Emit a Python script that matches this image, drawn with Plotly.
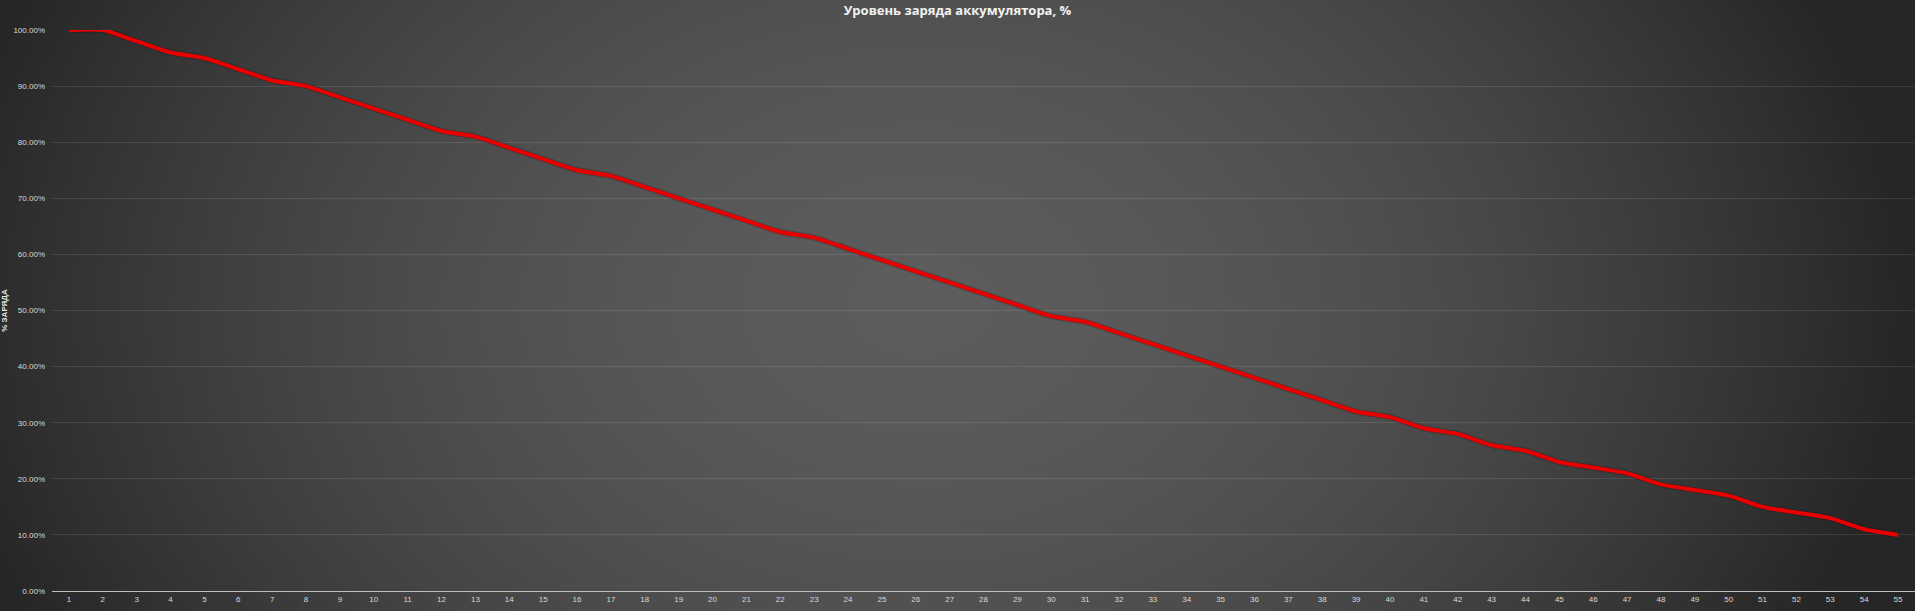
import base64, struct, zlib
import plotly.graph_objects as go

# ---- data ----
categories = [str(i) for i in range(1, 56)]
charge = [100, 100, 98, 96, 95, 93, 91, 90, 88, 86,
          84, 82, 81, 79, 77, 75, 74, 72, 70, 68,
          66, 64, 63, 61, 59, 57, 55, 53, 51, 49,
          48, 46, 44, 42, 40, 38, 36, 34, 32, 31,
          29, 28, 26, 25, 23, 22, 21, 19, 18, 17,
          15, 14, 13, 11, 10]
y_ticks = [0, 0.1, 0.2, 0.3, 0.4, 0.5, 0.6, 0.7, 0.8, 0.9, 1.0]
title_text = "Уровень заряда аккумулятора, %"
y_title = "% ЗАРЯДА"

W, H = 1915, 611


# ---- radial gradient background (styling only) ----
def gradient_png(w, h):
    rows = []
    cx, cy, rx, ry = 0.48, 0.5, 0.52, 1.2
    for j in range(h):
        row = bytearray([0])
        for i in range(w):
            x = i / (w - 1)
            y = j / (h - 1)
            r = (((x - cx) / rx) ** 2 + ((y - cy) / ry) ** 2) ** 0.5
            r = min(r, 1.0)
            v = int(round(92 - 54 * r ** 1.8))
            row.append(v)
        rows.append(bytes(row))
    raw = b"".join(rows)

    def chunk(t, d):
        c = struct.pack(">I", len(d)) + t + d
        return c + struct.pack(">I", zlib.crc32(t + d) & 0xFFFFFFFF)

    png = b"\x89PNG\r\n\x1a\n"
    png += chunk(b"IHDR", struct.pack(">IIBBBBB", w, h, 8, 0, 0, 0, 0))
    png += chunk(b"IDAT", zlib.compress(raw, 9))
    png += chunk(b"IEND", b"")
    return "data:image/png;base64," + base64.b64encode(png).decode()


bg = gradient_png(240, 76)

values = [v / 100 for v in charge]

fig = go.Figure()
fig.add_trace(go.Scatter(
    x=categories, y=values, mode="lines",
    line=dict(color="rgba(0,0,0,0.2)", width=6, shape="spline", smoothing=0.6),
    hoverinfo="skip", showlegend=False,
))
fig.add_trace(go.Scatter(
    x=categories, y=values, mode="lines",
    line=dict(color="#e80000", width=4, shape="spline", smoothing=0.6),
    showlegend=False,
))

fig.update_layout(
    width=W, height=H,
    margin=dict(l=52, r=0, t=30, b=20, autoexpand=False),
    paper_bgcolor="#3a3a3a",
    plot_bgcolor="rgba(0,0,0,0)",
    images=[dict(source=bg, xref="paper", yref="paper", x=-52 / (W - 52), y=1 + 30 / 561,
                 sizex=W / (W - 52), sizey=H / 561, sizing="stretch",
                 xanchor="left", yanchor="top", layer="below")],
    title=dict(text=title_text, x=0.5, xref="container", xanchor="center",
               y=1 - 10 / H, yanchor="middle",
               font=dict(family="Open Sans", size=13, color="#f2f2f2", weight="bold")),
    xaxis=dict(type="category", range=[-0.5, 54.5], showgrid=False,
               showline=True, linecolor="#bfbfbf", linewidth=1,
               ticks="", tickfont=dict(family="Liberation Sans", size=8, color="#d9d9d9"),
               zeroline=False, fixedrange=True),
    yaxis=dict(range=[0, 1.0], tickvals=y_ticks, tickformat=".2%",
               showgrid=True, gridcolor="rgba(255,255,255,0.1)", gridwidth=1,
               zeroline=False, showline=False, ticks="",
               tickfont=dict(family="Liberation Sans", size=8, color="#d9d9d9"),
               ticklabelstandoff=6,
               title=dict(text=y_title, standoff=14,
                          font=dict(family="Liberation Sans", size=8, color="#e6e6e6", weight="bold")),
               fixedrange=True),
)

fig.write_html("out.html", config={"displayModeBar": False},
               post_script="document.body.style.margin='0';document.body.style.overflow='hidden';")
